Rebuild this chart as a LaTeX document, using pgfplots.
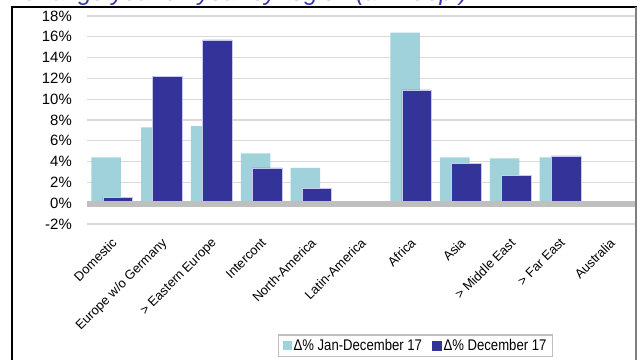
\documentclass[border=0pt]{standalone}
\usepackage{fontspec}
\setmainfont{Liberation Sans}
\newfontfamily\legfont{Liberation Sans}[FakeStretch=0.85]
\usepackage{pgfplots}
\pgfplotsset{compat=1.18}

\definecolor{lightbar}{HTML}{A0D2DC}
\definecolor{darkbar}{HTML}{333399}
\definecolor{darkedge}{HTML}{C8C8F0}
\definecolor{titleblue}{HTML}{3535A8}
\definecolor{gridgray}{HTML}{D9D9D9}
\definecolor{zerogray}{HTML}{BFBFBF}

% Change year on year by region, in percent
\pgfplotstableread{
x  janDec  dec
0  4.4     0.55
1  7.3     12.2
2  7.4     15.7
3  4.8     3.4
4  3.4     1.4
6  16.4    10.9
7  4.4     3.85
8  4.3     2.7
9  4.4     4.55
}\regiondata

\begin{document}
\begin{tikzpicture}
\useasboundingbox (0bp,0bp) rectangle (641bp,360bp);
\clip (0bp,0bp) rectangle (641bp,360bp);

% slide frame
\draw[black, line width=1.2bp] (12bp,-10bp) -- (12bp,353bp) -- (637bp,353bp);
\draw[gray, line width=2bp] (636bp,353bp) -- (636bp,-10bp);

% heading
\node[anchor=base west, inner sep=0pt, text=titleblue,
      font=\fontsize{24}{28}\selectfont\itshape] at (21bp,359bp)
      {Change year on year by region (arr.+dep.)};

\begin{axis}[
  at={(87bp,136bp)}, anchor=south west,
  width=548bp, height=208bp, scale only axis,
  xmin=-0.5, xmax=10.5, ymin=-2, ymax=18,
  axis line style={draw=none},
  major tick length=0pt,
  ytick={-2,0,...,18},
  /pgf/number format/assume math mode=true,
  yticklabel={\pgfmathprintnumber{\tick}\%},
  yticklabel style={font=\fontsize{15}{18}\selectfont, anchor=east,
                    inner sep=0pt, xshift=-15bp},
  ymajorgrids, grid style={gridgray, line width=1.2bp},
  xtick={0,...,10},
  xticklabels={Domestic, Europe w/o Germany, > Eastern Europe, Intercont,
               North-America, Latin-America, Africa, Asia, > Middle East,
               > Far East, Australia},
  xticklabel style={font=\fontsize{13}{16}\selectfont, xshift=-1bp, yshift=-13bp,
                    rotate=45, anchor=north east, inner sep=0pt},
  legend columns=2,
  legend style={at={(0.5995,-0.585)}, anchor=center, draw=zerogray,
                line width=1.5bp, fill=white,
                font=\legfont\fontsize{15.5}{18}\selectfont,
                inner xsep=4bp, inner ysep=2.5bp,
                /tikz/every even column/.append style={column sep=8bp}},
]
\addplot[ybar, bar width=29.5bp, bar shift=-5.8bp, fill=lightbar, draw=none,
         legend image code/.code={\fill[lightbar] (0bp,-4.5bp) rectangle (9bp,4.5bp);}]
  table[x=x, y=janDec] {\regiondata};
\addlegendentry{Δ\% Jan-December 17}
\addplot[ybar, bar width=29.5bp, bar shift=5.8bp, fill=darkbar, draw=darkedge,
         line width=0.6bp,
         legend image code/.code={\fill[darkbar] (0bp,-4.5bp) rectangle (9bp,4.5bp);}]
  table[x=x, y=dec] {\regiondata};
\addlegendentry{Δ\% December 17}

% thick zero line
\fill[zerogray] (axis cs:-0.5,0.19) rectangle (axis cs:10.5,-0.38);
\end{axis}
\end{tikzpicture}
\end{document}
